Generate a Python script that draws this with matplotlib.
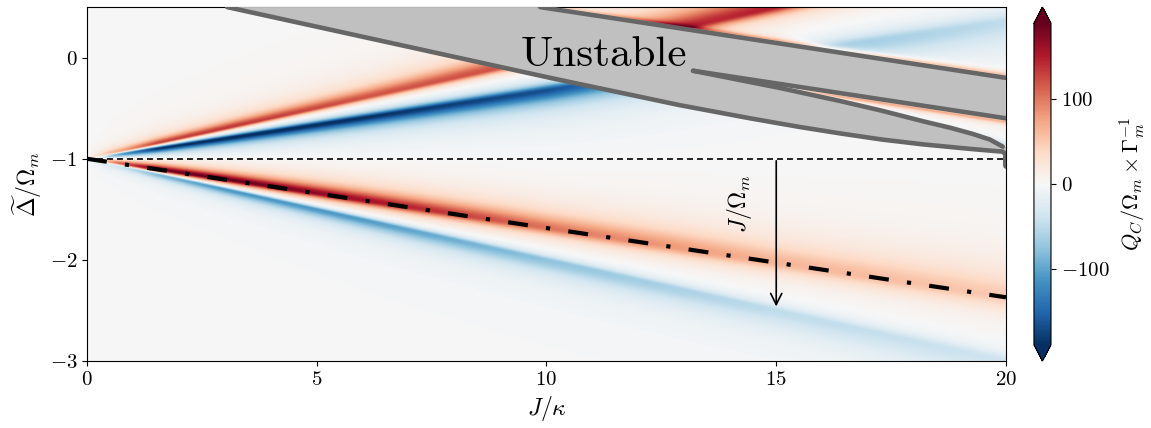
import numpy as np
import matplotlib.pyplot as plt
import matplotlib as mpl
from matplotlib.ticker import FuncFormatter

# Computer Modern look (no LaTeX available)
plt.rcParams['font.family'] = 'serif'
plt.rcParams['font.serif'] = ['cmr10', 'DejaVu Serif']
plt.rcParams['mathtext.fontset'] = 'cm'
plt.rcParams['font.size'] = 15

# --- values ---
x_lim = [0, 20]
y_lim = [-3, 0.5]
c_lim = 190

# amplitude knots along J/kappa for every ridge of Q_C
knot_x = [0, 0.5, 1.5, 3, 6, 10, 15, 20]

# ridges: ((x0, y0), (x1, y1)), amplitudes at knot_x, width above / below
red_low_line = [(0, -1), (20, -2.37)]
red_low_amp = [0, 120, 200, 200, 165, 105, 65, 50]
blue_low_line = [(0, -1), (20, -3.0)]
blue_low_amp = [0, -60, -110, -125, -115, -80, -50, -40]
blue_up_line = [(0, -1), (20, 0.36)]
blue_up_amp = [0, -120, -210, -210, -195, -170, -80, -50]
red_up_line = [(0, -1), (20, 1.0)]
red_up_amp = [0, 80, 145, 145, 125, 125, 150, 100]
edge_red_line = [(9.86, 0.53), (20, -0.17)]
edge_red_amp = [0, 0, 0, 0, 0, 30, 80, 60]
wedge_red_line = [(13.19, -0.16), (20, -0.63)]
wedge_red_amp = [0, 0, 0, 0, 0, 0, 90, 70]
wedge_blue_line = [(15.08, -0.27), (19.93, -0.85)]
wedge_blue_amp = [0, 0, 0, 0, 0, 0, -40, -40]

ridge_lines = [red_low_line, blue_low_line, blue_up_line, red_up_line,
               edge_red_line, wedge_red_line, wedge_blue_line]
ridge_amps = [red_low_amp, blue_low_amp, blue_up_amp, red_up_amp,
              edge_red_amp, wedge_red_amp, wedge_blue_amp]
ridge_w_up = [0.10, 0.03, 0.04, 0.10, 0.012, 0.005, 0.01]
ridge_w_dn = [0.05, 0.09, 0.09, 0.035, 0.005, 0.012, 0.005]

# unstable region outline
lower_bx = [3.05, 10.08, 12.9, 14.43, 15.5, 16.4, 17.3, 18.2, 19.28, 19.93, 20.0]
lower_by = [0.5, -0.2, -0.47, -0.6, -0.685, -0.75, -0.81, -0.858, -0.905, -0.93, -0.96]
upper_bx = [9.86, 20]
upper_by = [0.5, -0.2]
inner_top_x = [13.19, 20]
inner_top_y = [-0.13, -0.6]
inner_bot_x = [13.19, 15.08, 16.4, 17.3, 18.2, 18.8, 19.28, 19.65, 19.93]
inner_bot_y = [-0.13, -0.30, -0.43, -0.525, -0.63, -0.695, -0.755, -0.81, -0.88]

# dash-dot line and arrow
dashdot_x = [0, 20]
dashdot_y = [-1, -2.37]
arrow_x = 15
arrow_y = [-1.02, -2.46]


def ridge(X, Y, line, amp, w_up, w_dn):
    (x0, y0), (x1, y1) = line
    yl = y0 + (y1 - y0) * (X - x0) / (x1 - x0)
    d = Y - yl
    s = np.where(d > 0, w_up, w_dn) * (0.3 + 0.1 * X)
    a = np.interp(X, knot_x, amp)
    return a / (1 + (d / s) ** 2)


xg = np.linspace(x_lim[0], x_lim[1], 900)
yg = np.linspace(y_lim[0], y_lim[1], 500)
X, Y = np.meshgrid(xg, yg)
Q = np.zeros_like(X)
for ln, am, wu, wd in zip(ridge_lines, ridge_amps, ridge_w_up, ridge_w_dn):
    Q += ridge(X, Y, ln, am, wu, wd)

fig = plt.figure(figsize=(11.51, 4.28), dpi=100)
ax = fig.add_axes([0.0756, 0.1565, 0.7984, 0.827])
cax = fig.add_axes([0.8983, 0.1565, 0.0148, 0.827])

im = ax.imshow(Q, extent=[x_lim[0], x_lim[1], y_lim[0], y_lim[1]], origin='lower',
               aspect='auto', cmap='RdBu_r', vmin=-c_lim, vmax=c_lim,
               interpolation='bilinear')

# unstable region
poly_x = (lower_bx + [20, 20] + inner_bot_x[::-1] + inner_top_x + [20]
          + upper_bx[::-1])
poly_y = (lower_by + [-0.96, -0.88] + inner_bot_y[::-1] + inner_top_y + [-0.2]
          + upper_by[::-1])
ax.fill(poly_x, poly_y, color='#c0c0c0', lw=0, zorder=3)
gkw = dict(color='#666666', lw=3.3, solid_capstyle='round',
           solid_joinstyle='round', zorder=4)
ax.plot(lower_bx, lower_by, **gkw)
ax.plot([20, 20], [-0.96, -1.06], color='#666666', lw=5, solid_capstyle='round', zorder=4)
ax.plot(upper_bx, upper_by, **gkw)
ax.plot(inner_top_x, inner_top_y, **gkw)
ax.plot(inner_bot_x, inner_bot_y, **gkw)
ax.text(11.25, -0.08, 'Unstable', fontsize=31, ha='center', va='baseline', zorder=5)

# reference lines
ax.axhline(-1, color='k', lw=1.2, dashes=(3.6, 2.4), zorder=2)
ax.plot(dashdot_x, dashdot_y, color='k', lw=3, dashes=(4.8, 4.4, 1.0, 4.4), zorder=2)
ax.annotate('', xy=(arrow_x, arrow_y[1]), xytext=(arrow_x, arrow_y[0]),
            arrowprops=dict(arrowstyle='->', color='k', lw=1.2, mutation_scale=20,
                            shrinkA=0, shrinkB=0), zorder=5)
ax.text(14.2, -1.44, r'$J/\Omega_m$', rotation=90, ha='center', va='center', fontsize=17)

# math-mode tick labels give the Computer Modern minus sign
tick_fmt = FuncFormatter(lambda v, p: f'${v:g}$')

ax.set_xlim(x_lim)
ax.set_ylim(y_lim)
ax.set_xticks([0, 5, 10, 15, 20])
ax.set_yticks([-3, -2, -1, 0])
ax.xaxis.set_major_formatter(tick_fmt)
ax.yaxis.set_major_formatter(tick_fmt)
ax.set_xlabel(r'$J/\kappa$', fontsize=17)
ax.set_ylabel(r'$\widetilde{\Delta}/\Omega_m$', fontsize=17)

cb = fig.colorbar(im, cax=cax, extend='both')
cb.set_ticks([-100, 0, 100])
cb.ax.yaxis.set_major_formatter(tick_fmt)
cb.set_label(r'$Q_C/\Omega_m \times \Gamma_m^{-1}$', fontsize=16, labelpad=6)

fig.savefig('out.png', dpi=100)
